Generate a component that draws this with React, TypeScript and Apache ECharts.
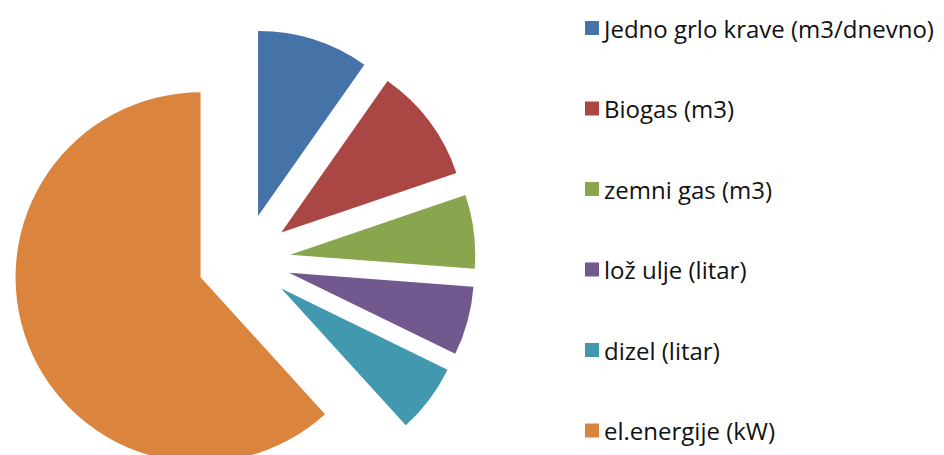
import React, { useEffect, useRef } from "react";
import * as echarts from "echarts";

const categories = [
  "Jedno grlo krave (m3/dnevno)",
  "Biogas (m3)",
  "zemni gas (m3)",
  "lož ulje (litar)",
  "dizel (litar)",
  "el.energije (kW)",
];
const values = [0.97, 1.0, 0.64, 0.6, 0.6, 6.15];
const colors = ["#4572A7", "#AA4643", "#89A54E", "#71588F", "#4198AF", "#DB843D"];

export default function App() {
  const ref = useRef<HTMLDivElement>(null);
  useEffect(() => {
    if (!ref.current) return;
    const chart = echarts.init(ref.current, undefined, { renderer: "svg" });
    chart.setOption({
      animation: false,
      color: colors,
      legend: {
        orient: "vertical",
        left: 585,
        top: 16,
        padding: 0,
        itemWidth: 14,
        itemHeight: 14,
        itemGap: 56.5,
        icon: "rect",
        selectedMode: false,
        textStyle: {
          fontFamily: "Open Sans",
          fontSize: 24,
          lineHeight: 24,
          color: "#111",
        },
        data: categories,
      },
      series: [
        {
          type: "pie",
          center: [244, 260.5],
          radius: 185,
          startAngle: 90,
          clockwise: true,
          selectedMode: "multiple",
          selectedOffset: 46.6,
          label: { show: false },
          labelLine: { show: false },
          emphasis: { disabled: true },
          itemStyle: { borderWidth: 0 },
          data: categories.map((name, i) => ({
            name,
            value: values[i],
            selected: true,
          })),
        },
      ],
    });
    return () => chart.dispose();
  }, []);
  return (
    <div
      ref={ref}
      style={{ position: "fixed", left: 0, top: 0, width: 944, height: 455, background: "#fff" }}
    />
  );
}
